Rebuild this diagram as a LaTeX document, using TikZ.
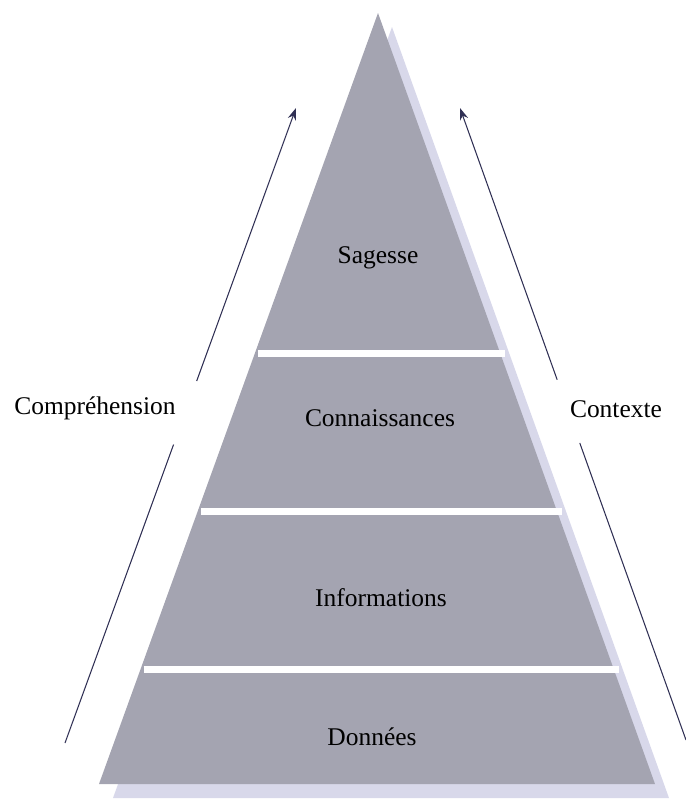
\documentclass[tikz,border=0pt]{standalone}
\usepackage{fontspec}
\setmainfont{Liberation Serif}
\usetikzlibrary{arrows.meta}
\usetikzlibrary{calc}

\definecolor{tiergrey}{RGB}{164,164,177}
\definecolor{shadowgrey}{RGB}{216,216,234}
\definecolor{arrowblue}{RGB}{48,48,84}

\begin{document}
\begin{tikzpicture}[x=0.02cm,y=-0.02cm,
        tier/.style={font=\fontsize{14.5}{17}\selectfont},
        side/.style={font=\fontsize{14.5}{17}\selectfont},
        sep/.style={white,line width=0.14cm},
        rise/.style={arrowblue,line width=0.6pt}]
        \useasboundingbox (0,0) rectangle (686,799);

        % pyramid and its shadow
        \fill[shadowgrey] (392,27) -- (669,798) -- (113,798) -- cycle;
        \fill[tiergrey] (378,13) -- (655,784) -- (99,784) -- cycle;

        % white gaps between the tiers
        \foreach \y in {353,511,669}
            \draw[sep] ({378-(\y-13)/771*279+3},\y) -- ({378+(\y-13)/771*277+5},\y);

        \node[tier] (sagesse) at (378,258) {Sagesse};
        \node[tier] (conn) at (380,418) {Connaissances};
        \node[tier] (info) at (381,598) {Informations};
        \node[tier] (donnees) at (372,737) {Données};
        \node[side] (compr) at (95,408) {Compréhension};
        \node[side] (ctx) at (616,409) {Contexte};

        \coordinate (lbot) at (65,743);
        \coordinate (ltop) at (296,108);
        \coordinate (rbot) at (686,740);
        \coordinate (rtop) at (460,108);
        \draw[rise] (lbot) -- ($(lbot)!0.47!(ltop)$);
        \draw[rise,-{Stealth[length=2.4mm,width=1.7mm]}] ($(lbot)!0.57!(ltop)$) -- (ltop);
        \draw[rise] (rbot) -- ($(rbot)!0.47!(rtop)$);
        \draw[rise,-{Stealth[length=2.4mm,width=1.7mm]}] ($(rbot)!0.57!(rtop)$) -- (rtop);
    \end{tikzpicture}
\end{document}
